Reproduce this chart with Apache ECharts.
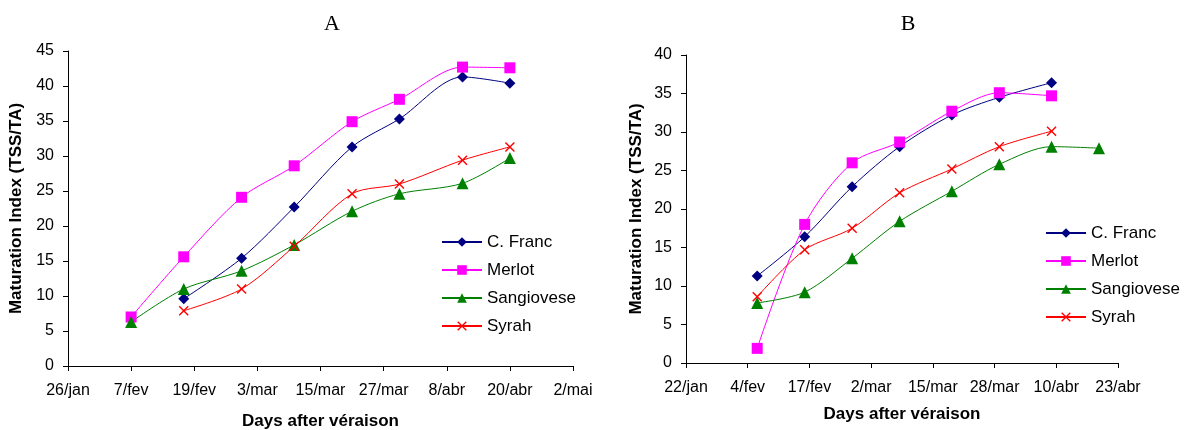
<!DOCTYPE html>
<html>
<head>
<meta charset="utf-8">
<script src="https://cdn.jsdelivr.net/npm/echarts@6/dist/echarts.min.js"></script>
<style>
  html, body { margin: 0; padding: 0; background: #fff; }
  #chart { width: 1184px; height: 430px; }
</style>
</head>
<body>
<div id="chart"></div>
<script>
// panel A: sampling dates and values
const startA = '2007-01-26';
const datesA = ['2007-02-07', '2007-02-17', '2007-02-28', '2007-03-10', '2007-03-21', '2007-03-30', '2007-04-11', '2007-04-20'];
const francA = [null, 9.6, 15.4, 22.7, 31.3, 35.3, 41.3, 40.4];
const merlotA = [7.0, 15.6, 24.1, 28.6, 34.9, 38.1, 42.7, 42.6];
const sangioA = [6.3, 11.0, 13.6, 17.3, 22.1, 24.6, 26.1, 29.7];
const syrahA = [null, 7.9, 11.0, 17.1, 24.6, 26.0, 29.4, 31.3];

// panel B
const startB = '2007-01-22';
const datesB = ['2007-02-06', '2007-02-16', '2007-02-26', '2007-03-08', '2007-03-19', '2007-03-29', '2007-04-09', '2007-04-19'];
const francB = [11.3, 16.4, 22.9, 28.1, 32.2, 34.5, 36.4, null];
const merlotB = [1.9, 18.0, 26.0, 28.7, 32.7, 35.1, 34.7, null];
const sangioB = [7.8, 9.2, 13.6, 18.4, 22.3, 25.8, 28.1, 27.9];
const syrahB = [8.6, 14.7, 17.5, 22.1, 25.2, 28.1, 30.1, null];

const names = ['C. Franc', 'Merlot', 'Sangiovese', 'Syrah'];
const months = ['jan', 'fev', 'mar', 'abr', 'mai', 'jun'];
const DAY = 86400000;

const days = (from, to) => Math.round((Date.parse(to) - Date.parse(from)) / DAY);

// pair dates with values, dropping missing ones
const pairs = (start, dates, vals) =>
  dates.map((d, i) => [days(start, d), vals[i]]).filter(p => p[1] != null);

const dayLabel = (start) => (v) => {
  const d = new Date(Date.parse(start) + v * DAY);
  return d.getUTCDate() + '/' + months[d.getUTCMonth()];
};

const styles = [
  { color: '#000080', symbol: 'diamond', symbolSize: 11 },
  { color: '#FF00FF', symbol: 'rect', symbolSize: 11 },
  { color: '#008000', symbol: 'triangle', symbolSize: 12 },
  { color: '#FF0000', symbol: 'path://M0,1L1,0L5,4L9,0L10,1L6,5L10,9L9,10L5,6L1,10L0,9L4,5Z', symbolSize: 10 }
];

const font = 'Liberation Sans';

const makeSeries = (idx, start, dates, lists) => lists.map((vals, i) => ({
  name: names[i],
  type: 'line',
  xAxisIndex: idx,
  yAxisIndex: idx,
  data: pairs(start, dates, vals),
  smooth: 0.3,
  symbol: styles[i].symbol,
  symbolSize: styles[i].symbolSize,
  showAllSymbol: true,
  lineStyle: { color: styles[i].color, width: 1 },
  itemStyle: { color: styles[i].color },
  emphasis: { disabled: true }
}));

const xAxis = (idx, start, max, interval, gap) => ({
  type: 'value',
  gridIndex: idx,
  min: 0,
  max: max,
  interval: interval,
  name: 'Days after véraison',
  nameLocation: 'middle',
  nameGap: gap,
  nameTextStyle: { fontFamily: font, fontWeight: 'bold', fontSize: 17, color: '#000' },
  splitLine: { show: false },
  axisLine: { lineStyle: { color: '#000', width: 1 } },
  axisTick: { show: true, length: 5, lineStyle: { color: '#000' } },
  axisLabel: { formatter: dayLabel(start), fontFamily: font, fontSize: 16, color: '#000', margin: 17, showMinLabel: true, showMaxLabel: true }
});

const yAxis = (idx, max, gap) => ({
  type: 'value',
  gridIndex: idx,
  min: 0,
  max: max,
  interval: 5,
  name: 'Maturation Index (TSS/TA)',
  nameLocation: 'middle',
  nameRotate: 90,
  nameGap: gap,
  nameTextStyle: { fontFamily: font, fontWeight: 'bold', fontSize: 17, color: '#000' },
  splitLine: { show: false },
  axisLine: { show: true, lineStyle: { color: '#000', width: 1 } },
  axisTick: { show: true, length: 5, lineStyle: { color: '#000' } },
  axisLabel: { fontFamily: font, fontSize: 16, color: '#000', margin: 14 }
});

const legend = (left, top) => ({
  data: names,
  orient: 'vertical',
  left: left,
  top: top,
  padding: 0,
  itemWidth: 40,
  itemHeight: 12,
  itemGap: 10,
  selectedMode: false,
  textStyle: { fontFamily: font, fontSize: 17, color: '#000', lineHeight: 18 }
});

const chart = echarts.init(document.getElementById('chart'));
chart.setOption({
  animation: false,
  backgroundColor: '#fff',
  title: [
    { text: 'A', left: 327, top: 8, textAlign: 'center', textStyle: { fontFamily: 'Liberation Serif', fontWeight: 'normal', fontSize: 22, color: '#000' } },
    { text: 'B', left: 903, top: 8, textAlign: 'center', textStyle: { fontFamily: 'Liberation Serif', fontWeight: 'normal', fontSize: 22, color: '#000' } }
  ],
  legend: [legend(441, 233), legend(1045, 224)],
  grid: [
    { left: 68, top: 51, width: 505, height: 315, outerBoundsMode: 'none' },
    { left: 686, top: 55, width: 432, height: 308, outerBoundsMode: 'none' }
  ],
  xAxis: [xAxis(0, startA, 96, 12, 47), xAxis(1, startB, 91, 13, 43)],
  yAxis: [yAxis(0, 45, 43), yAxis(1, 40, 41)],
  series: makeSeries(0, startA, datesA, [francA, merlotA, sangioA, syrahA])
    .concat(makeSeries(1, startB, datesB, [francB, merlotB, sangioB, syrahB]))
});
</script>
</body>
</html>
